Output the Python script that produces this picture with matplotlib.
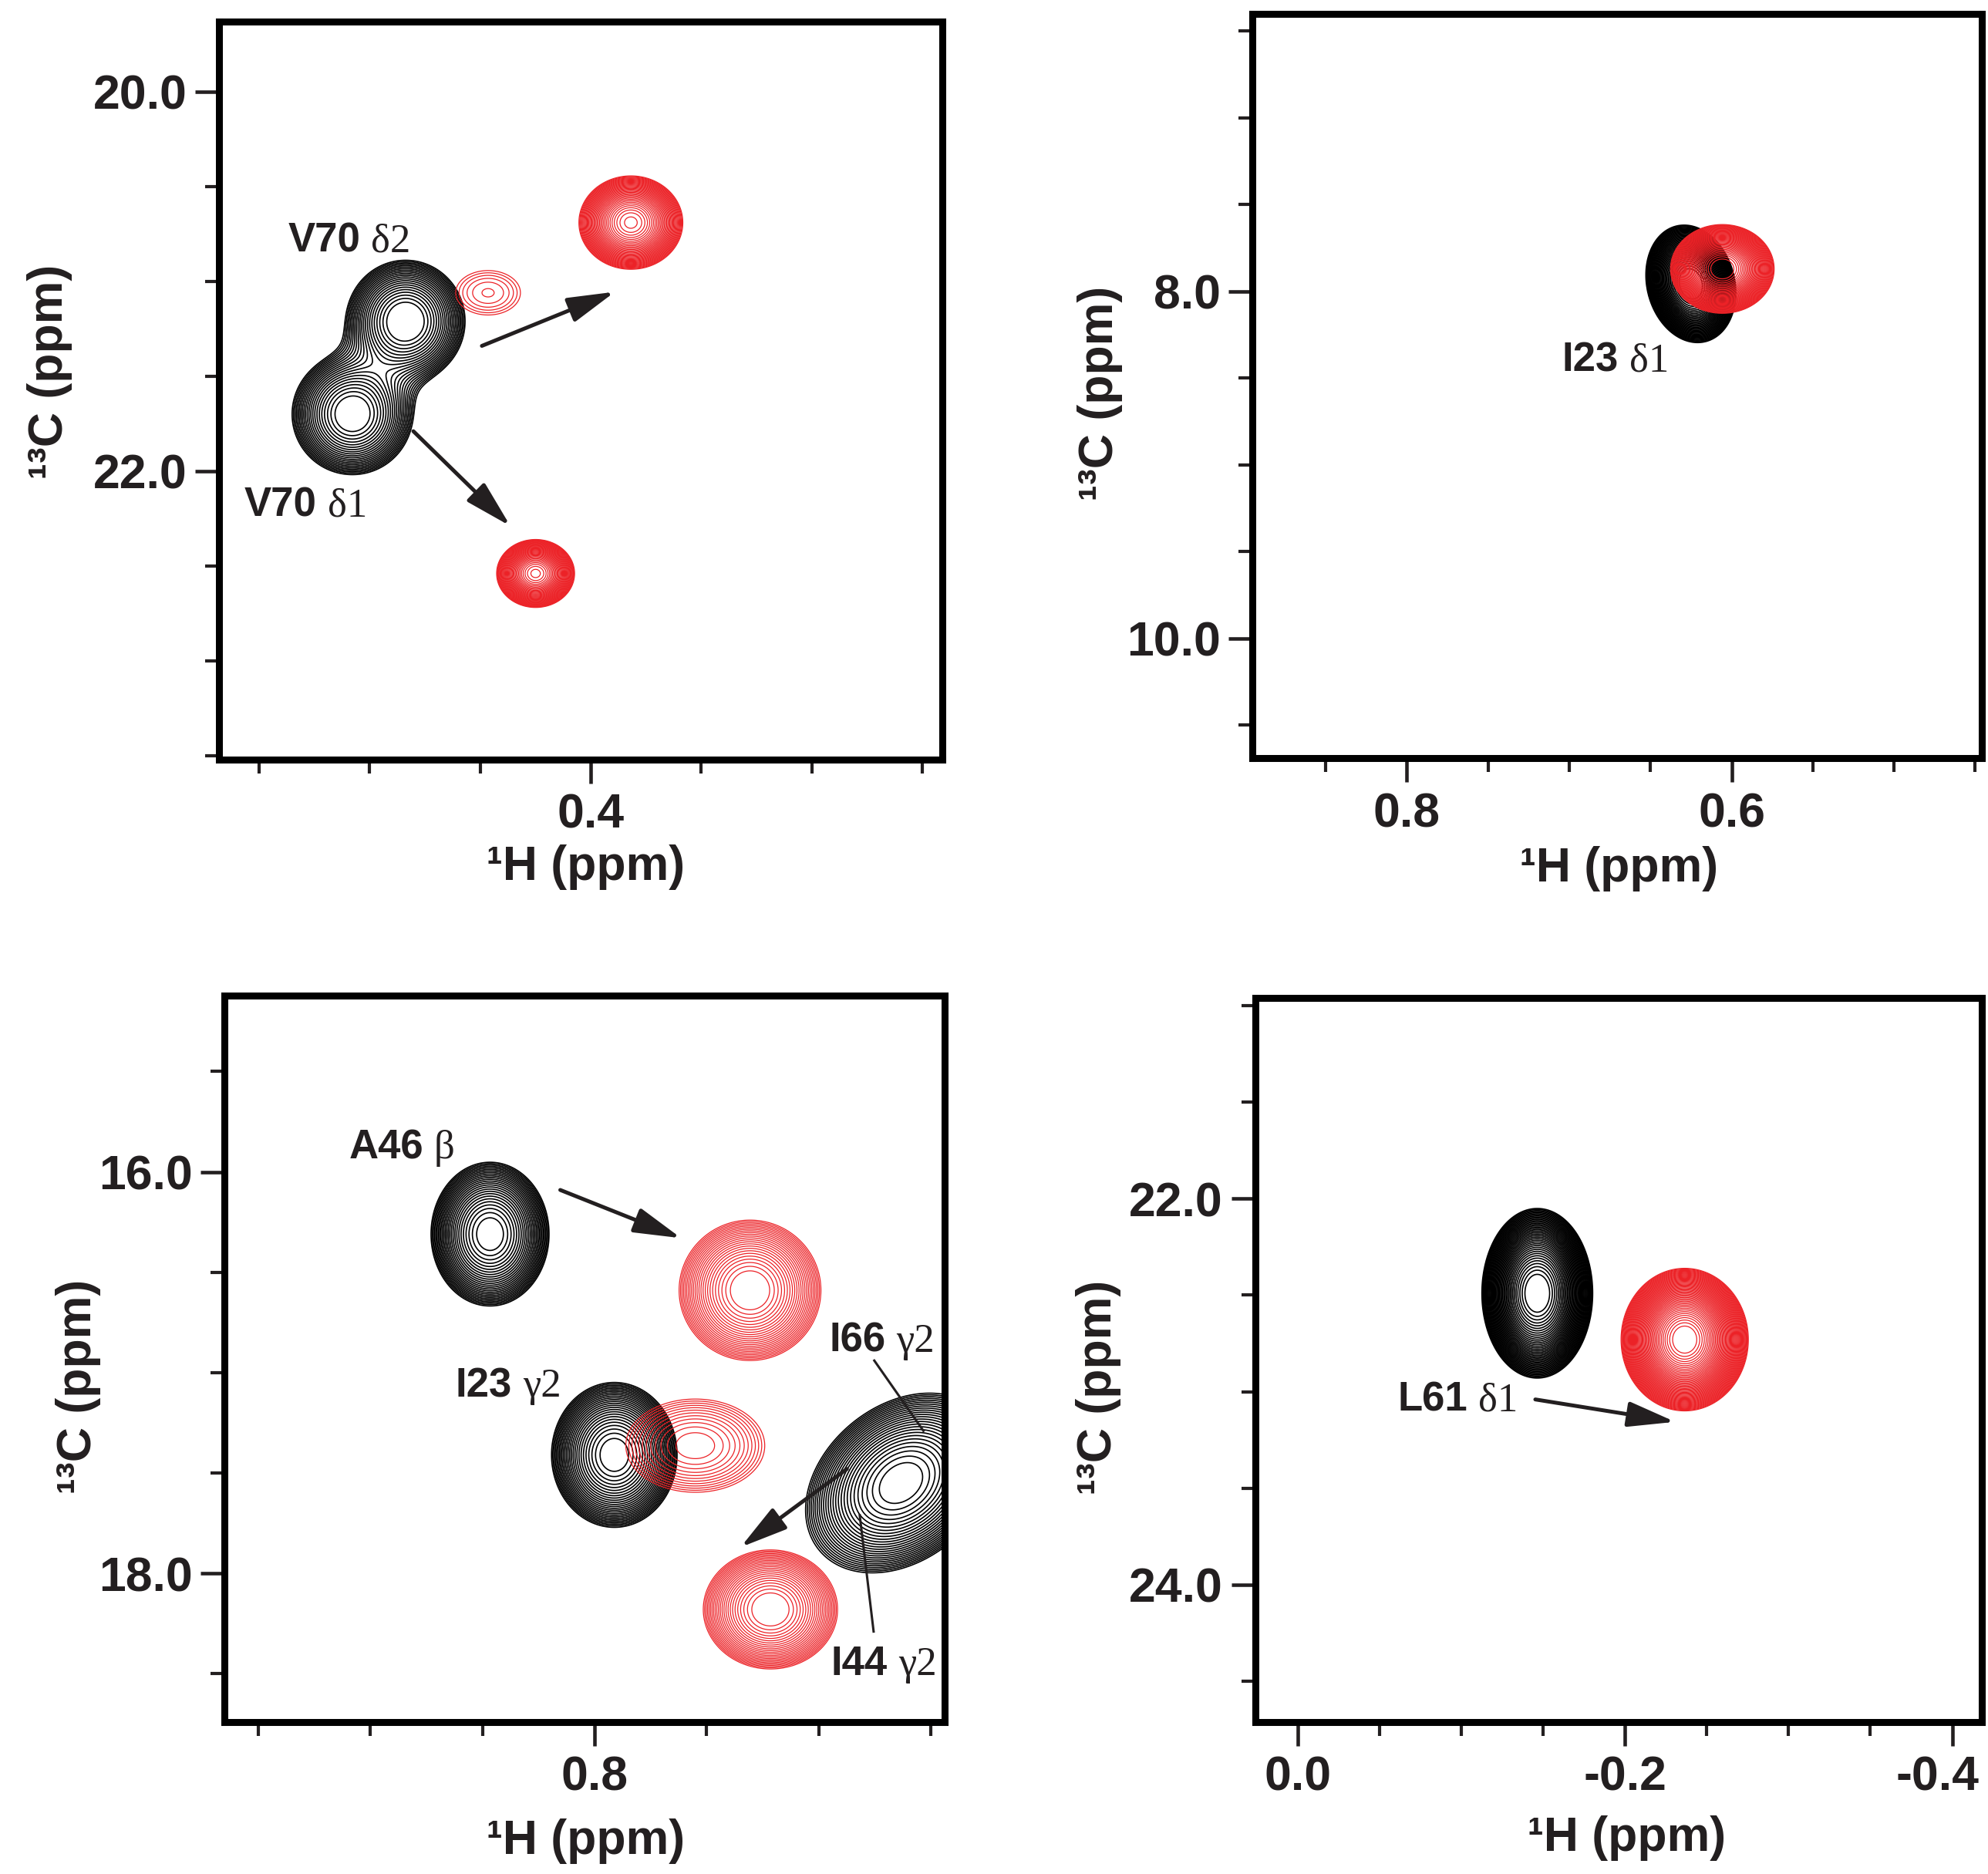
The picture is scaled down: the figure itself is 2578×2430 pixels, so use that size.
import numpy as np
import matplotlib
matplotlib.use('Agg')
import matplotlib.pyplot as plt
import matplotlib.transforms as mtransforms
from matplotlib.ticker import MultipleLocator, FormatStrFormatter

plt.rcParams['font.family'] = ['Liberation Sans', 'DejaVu Sans']
plt.rcParams['axes.unicode_minus'] = False

TXT = '#231f20'
BLK = '#000000'
RED = '#ec2227'
SERIF = ['Liberation Serif', 'DejaVu Serif']

# ---------------- data (ppm) ----------------
# panel limits: (x_left, x_right), (y_bottom, y_top)
p1_xlim = (0.568, 0.241); p1_ylim = (23.52, 19.63)
p2_xlim = (0.895, 0.446); p2_ylim = (10.69, 6.40)
p3_xlim = (0.965, 0.644); p3_ylim = (18.74, 15.12)
p4_xlim = (0.026, -0.418); p4_ylim = (24.71, 20.96)

# peaks: 1H shift, 13C shift, 1H sigma, 13C sigma, amplitude, correlation
p1_blk_h = [0.4837, 0.5078]; p1_blk_c = [21.21, 21.70]
p1_blk_sh = [0.0138, 0.0141]; p1_blk_sc = [0.165, 0.165]
p1_blk_a = [1.0, 0.97]; p1_blk_r = [0.0, 0.0]
p1_red_h = [0.3818, 0.4249, 0.4464]; p1_red_c = [20.69, 22.54, 21.06]
p1_red_sh = [0.0084, 0.0063, 0.0135]; p1_red_sc = [0.088, 0.064, 0.108]
p1_red_a = [1.0, 1.0, 0.036]; p1_red_r = [0.0, 0.0, 0.0]

p2_blk_h = [0.6251]; p2_blk_c = [7.956]
p2_blk_sh = [0.0099]; p2_blk_sc = [0.121]
p2_blk_a = [1.0]; p2_blk_r = [-0.15]
p2_red_h = [0.6057]; p2_red_c = [7.87]
p2_red_sh = [0.0114]; p2_red_sc = [0.0914]
p2_red_a = [1.0]; p2_red_r = [0.0]

p3_blk_h = [0.8466, 0.7912, 0.6634]; p3_blk_c = [16.31, 17.41, 17.55]
p3_blk_sh = [0.0094, 0.0100, 0.0152]; p3_blk_sc = [0.128, 0.129, 0.160]
p3_blk_a = [1.0, 1.0, 1.0]; p3_blk_r = [0.0, 0.0, 0.3]
p3_red_h = [0.7307, 0.7551, 0.7216]; p3_red_c = [16.59, 17.364, 18.18]
p3_red_sh = [0.0113, 0.0160, 0.0107]; p3_red_sc = [0.125, 0.120, 0.106]
p3_red_a = [1.0, 0.13, 1.0]; p3_red_r = [0.0, 0.0, 0.0]

p4_blk_h = [-0.1464]; p4_blk_c = [22.49]
p4_blk_sh = [0.0121]; p4_blk_sc = [0.157]
p4_blk_a = [1.0]; p4_blk_r = [0.0]
p4_red_h = [-0.2365]; p4_red_c = [22.73]
p4_red_sh = [0.0139]; p4_red_sc = [0.132]
p4_red_a = [1.0]; p4_red_r = [0.0]

# contour levels: base, factor, count  (black, red)
p1_levels = [(0.15, 1.085, 22), (0.02, 1.12, 35)]
p2_levels = [(0.02, 1.11, 36), (0.02, 1.10, 40)]
p3_levels = [(0.02, 1.16, 26), (0.02, 1.17, 24)]
p4_levels = [(0.02, 1.10, 40), (0.02, 1.08, 50)]

# labels: (x at gap, baseline y, bold part, serif part)
p1_labels = [(0.5017, 20.845, 'V70', 'δ2'), (0.5215, 22.24, 'V70', 'δ1')]
p2_labels = [(0.6662, 8.46, 'I23', 'δ1')]
p3_labels = [(0.8739, 15.934, 'A46', 'β'), (0.8344, 17.12, 'I23', 'γ2'),
             (0.6679, 16.896, 'I66', 'γ2'), (0.6670, 18.507, 'I44', 'γ2')]
p4_labels = [(-0.1072, 23.10, 'L61', 'δ1')]

# arrows: (x0, y0, x1, y1)
p1_arrows = [(0.4492, 21.34, 0.389, 21.055), (0.4802, 21.79, 0.4363, 22.29)]
p2_arrows = []
p3_arrows = [(0.8153, 16.09, 0.7614, 16.33), (0.6875, 17.48, 0.7349, 17.87)]
p4_arrows = [(-0.1452, 23.04, -0.2307, 23.156)]

# plain leader lines
p3_lines = [(0.6753, 16.94, 0.6534, 17.29), (0.6818, 17.71, 0.6756, 18.29)]

# axes rectangles (figure fractions)
rects = [(0.1103, 0.5948, 0.3636, 0.3937),
         (0.6301, 0.5954, 0.3667, 0.3972),
         (0.1129, 0.0812, 0.3622, 0.3877),
         (0.6314, 0.0812, 0.3654, 0.3863)]
xlab_pos = [(0.507, -0.146), (0.503, -0.148), (0.502, -0.164), (0.511, -0.161)]
ylab_pos = [(-0.235, 0.525), (-0.209, 0.49), (-0.2025, 0.462), (-0.216, 0.462)]


def spectrum(X, Y, h, c, sh, sc, a, r):
    Z = np.zeros_like(X)
    for hi, ci, shi, sci, ai, ri in zip(h, c, sh, sc, a, r):
        u = (X - hi) / shi
        v = (Y - ci) / sci
        q = (u * u - 2 * ri * u * v + v * v) / (1 - ri * ri)
        Z += ai * np.exp(-0.5 * q)
    return Z


def make_levels(spec):
    base, fac, n = spec
    return base * fac ** np.arange(n)


fig = plt.figure(figsize=(25.78, 24.30), dpi=100)

panels = [
    (p1_xlim, p1_ylim,
     (p1_blk_h, p1_blk_c, p1_blk_sh, p1_blk_sc, p1_blk_a, p1_blk_r),
     (p1_red_h, p1_red_c, p1_red_sh, p1_red_sc, p1_red_a, p1_red_r),
     p1_levels, p1_labels, p1_arrows, []),
    (p2_xlim, p2_ylim,
     (p2_blk_h, p2_blk_c, p2_blk_sh, p2_blk_sc, p2_blk_a, p2_blk_r),
     (p2_red_h, p2_red_c, p2_red_sh, p2_red_sc, p2_red_a, p2_red_r),
     p2_levels, p2_labels, p2_arrows, []),
    (p3_xlim, p3_ylim,
     (p3_blk_h, p3_blk_c, p3_blk_sh, p3_blk_sc, p3_blk_a, p3_blk_r),
     (p3_red_h, p3_red_c, p3_red_sh, p3_red_sc, p3_red_a, p3_red_r),
     p3_levels, p3_labels, p3_arrows, p3_lines),
    (p4_xlim, p4_ylim,
     (p4_blk_h, p4_blk_c, p4_blk_sh, p4_blk_sc, p4_blk_a, p4_blk_r),
     (p4_red_h, p4_red_c, p4_red_sh, p4_red_sc, p4_red_a, p4_red_r),
     p4_levels, p4_labels, p4_arrows, []),
]

axes = []
for i, (xl, yl, blk, red, levs, labels, arrows, lines) in enumerate(panels):
    ax = fig.add_axes(rects[i])
    axes.append(ax)
    xs = np.linspace(min(xl), max(xl), 600)
    ys = np.linspace(min(yl), max(yl), 600)
    X, Y = np.meshgrid(xs, ys)
    Zb = spectrum(X, Y, *blk)
    Zr = spectrum(X, Y, *red)
    ax.contour(X, Y, Zb, levels=make_levels(levs[0]), colors=BLK, linewidths=1.2)
    ax.contour(X, Y, Zr, levels=make_levels(levs[1]), colors=RED, linewidths=0.9)

    ax.set_xlim(*xl)
    ax.set_ylim(*yl)

    ax.xaxis.set_major_locator(MultipleLocator(0.2))
    ax.xaxis.set_minor_locator(MultipleLocator(0.05))
    ax.yaxis.set_major_locator(MultipleLocator(2.0))
    ax.yaxis.set_minor_locator(MultipleLocator(0.5))
    ax.xaxis.set_major_formatter(FormatStrFormatter('%.1f'))
    ax.yaxis.set_major_formatter(FormatStrFormatter('%.1f'))
    ax.tick_params(which='both', direction='out', top=False, right=False,
                   colors=TXT, labelcolor=TXT)
    ax.tick_params(which='major', length=22, width=3.3, labelsize=45)
    ax.tick_params(which='minor', length=13, width=3.0)
    ax.tick_params(axis='x', which='major', pad=9)
    ax.tick_params(axis='y', which='major', pad=8)
    for lab in ax.get_xticklabels() + ax.get_yticklabels():
        lab.set_fontweight('bold')
    for sp in ax.spines.values():
        sp.set_linewidth(6.5)
        sp.set_color(BLK)

    ax.set_xlabel('¹H (ppm)', fontsize=45, fontweight='bold', color=TXT, va='center')
    ax.set_ylabel('¹³C (ppm)', fontsize=45, fontweight='bold', color=TXT, va='center')
    ax.xaxis.set_label_coords(*xlab_pos[i])
    ax.yaxis.set_label_coords(*ylab_pos[i])

    for (x, y, b, s) in labels:
        ax.annotate(b, (x, y), xytext=(-5, 0), textcoords='offset points',
                    ha='right', va='baseline', fontsize=38, fontweight='bold', color=TXT)
        ax.annotate(s, (x, y), xytext=(5, 0), textcoords='offset points',
                    ha='left', va='baseline', fontsize=38, family=SERIF, color=TXT)

    for (x0, y0, x1, y1) in arrows:
        ax.annotate('', xy=(x1, y1), xytext=(x0, y0),
                    arrowprops=dict(arrowstyle='-|>,head_length=0.75,head_width=0.2',
                                    mutation_scale=50, lw=3.6, color=TXT,
                                    shrinkA=0, shrinkB=0))
    for (x0, y0, x1, y1) in lines:
        ax.plot([x0, x1], [y0, y1], color=TXT, lw=2.2)

# the last tick label of the bottom-right panel sits slightly left of its tick
fig.canvas.draw()
shift = mtransforms.ScaledTranslation(-14 / 72, 0, fig.dpi_scale_trans)
ax4 = axes[3]
for tick in ax4.xaxis.get_major_ticks():
    if abs(tick.get_loc() - (-0.4)) < 1e-6:
        tick.label1.set_transform(tick.label1.get_transform() + shift)

fig.savefig('out.png', dpi=100)
